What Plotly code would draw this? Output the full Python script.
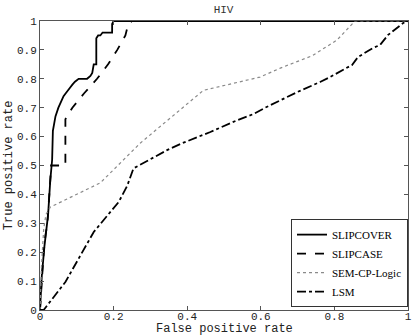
import plotly.graph_objects as go

# ROC points (false positive rate, true positive rate)
slipcover_fpr = [0, 0.005, 0.012, 0.018, 0.022, 0.028, 0.033, 0.035, 0.042, 0.05, 0.056, 0.064, 0.07,
                 0.077, 0.082, 0.088, 0.095, 0.105, 0.128, 0.137, 0.142, 0.146, 0.153, 0.153,
                 0.158, 0.164, 0.17, 0.178, 0.196, 0.196, 0.2, 1.0]
slipcover_tpr = [0, 0.12, 0.22, 0.3, 0.33, 0.45, 0.52, 0.62, 0.67, 0.7, 0.72, 0.74, 0.75,
                 0.76, 0.77, 0.78, 0.79, 0.80, 0.80, 0.81, 0.82, 0.85, 0.85, 0.94,
                 0.95, 0.95, 0.96, 0.96, 0.96, 0.99, 1.0, 1.0]

slipcase_fpr = [0, 0.004, 0.01, 0.015, 0.02, 0.028, 0.03, 0.04, 0.069, 0.069, 0.088, 0.12,
                0.155, 0.185, 0.21, 0.232, 0.24, 0.25, 1.0]
slipcase_tpr = [0, 0.1, 0.2, 0.26, 0.3, 0.45, 0.5, 0.5, 0.5, 0.66, 0.7, 0.75,
                0.8, 0.85, 0.9, 0.95, 0.99, 1.0, 1.0]

semcp_fpr = [0, 0.004, 0.01, 0.016, 0.028, 0.164, 0.273, 0.444, 0.598, 0.653, 0.74, 0.807, 0.856, 1.0]
semcp_tpr = [0, 0.15, 0.28, 0.33, 0.356, 0.44, 0.578, 0.76, 0.806, 0.837, 0.88, 0.934, 1.0, 1.0]

lsm_fpr = [0, 0.01, 0.069, 0.146, 0.214, 0.237, 0.254, 0.282, 0.345, 0.386, 0.463, 0.531, 0.58,
           0.612, 0.699, 0.761, 0.788, 0.848, 0.864, 0.905, 0.924, 0.946, 0.987, 1.0]
lsm_tpr = [0, 0.0, 0.097, 0.27, 0.374, 0.43, 0.49, 0.51, 0.553, 0.577, 0.616, 0.654, 0.678,
           0.70, 0.754, 0.789, 0.806, 0.848, 0.875, 0.907, 0.917, 0.952, 0.993, 1.0]

x_ticks = [0, 0.2, 0.4, 0.6, 0.8, 1]
y_ticks = [0, 0.1, 0.2, 0.3, 0.4, 0.5, 0.6, 0.7, 0.8, 0.9, 1]

mono = "Liberation Mono, Courier New, monospace"
ink = "#222"

fig = go.Figure()
fig.add_trace(go.Scatter(x=slipcover_fpr, y=slipcover_tpr, mode="lines", name="SLIPCOVER",
                         line=dict(color="black", width=1.8)))
fig.add_trace(go.Scatter(x=slipcase_fpr, y=slipcase_tpr, mode="lines", name="SLIPCASE",
                         line=dict(color="black", width=1.8, dash="dash")))
fig.add_trace(go.Scatter(x=semcp_fpr, y=semcp_tpr, mode="lines", name="SEM-CP-Logic",
                         line=dict(color="#8a8a8a", width=1.2, dash="dot")))
fig.add_trace(go.Scatter(x=lsm_fpr, y=lsm_tpr, mode="lines", name="LSM",
                         line=dict(color="black", width=1.8, dash="dashdot")))

fig.update_layout(
    width=414, height=336,
    margin=dict(l=40, r=6, t=21, b=26),
    paper_bgcolor="white", plot_bgcolor="white",
    title=dict(text="HIV", x=0.54, xanchor="center", y=0.985, yanchor="top",
               font=dict(family=mono, size=11, color="#333")),
    legend=dict(x=1, xanchor="right", y=0.01, yanchor="bottom",
                bordercolor="#333", borderwidth=1, bgcolor="white",
                font=dict(family="Liberation Serif, Times New Roman, serif", size=11, color="black"),
                tracegroupgap=0, itemwidth=30),
    showlegend=True,
    annotations=[
        dict(text="False positive rate", xref="paper", yref="paper", x=0.5, y=-0.066,
             xanchor="center", yanchor="middle", showarrow=False,
             font=dict(family=mono, size=12, color=ink)),
        dict(text="True positive rate", xref="paper", yref="paper", x=-0.085, y=0.5,
             xanchor="center", yanchor="middle", textangle=-90, showarrow=False,
             font=dict(family=mono, size=12, color=ink)),
    ],
)
fig.update_xaxes(range=[0, 1], tickvals=x_ticks, ticktext=[f"{v:g}" for v in x_ticks],
                 showline=True, linecolor="#555", linewidth=1, mirror="ticks",
                 ticks="inside", ticklen=4, tickcolor="#555", showgrid=False, zeroline=False,
                 automargin=False, ticklabelstandoff=-4,
                 tickfont=dict(family=mono, size=11, color=ink))
fig.update_yaxes(range=[0, 1], tickvals=y_ticks, ticktext=[f"{v:g}" for v in y_ticks],
                 showline=True, linecolor="#555", linewidth=1, mirror="ticks",
                 ticks="inside", ticklen=4, tickcolor="#555", showgrid=False, zeroline=False,
                 automargin=False,
                 tickfont=dict(family=mono, size=11, color=ink))

# the page body has a default margin; drop it so the figure fills the window
fig.write_html("out.html", config={"displayModeBar": False},
               post_script="document.body.style.margin='0';")
